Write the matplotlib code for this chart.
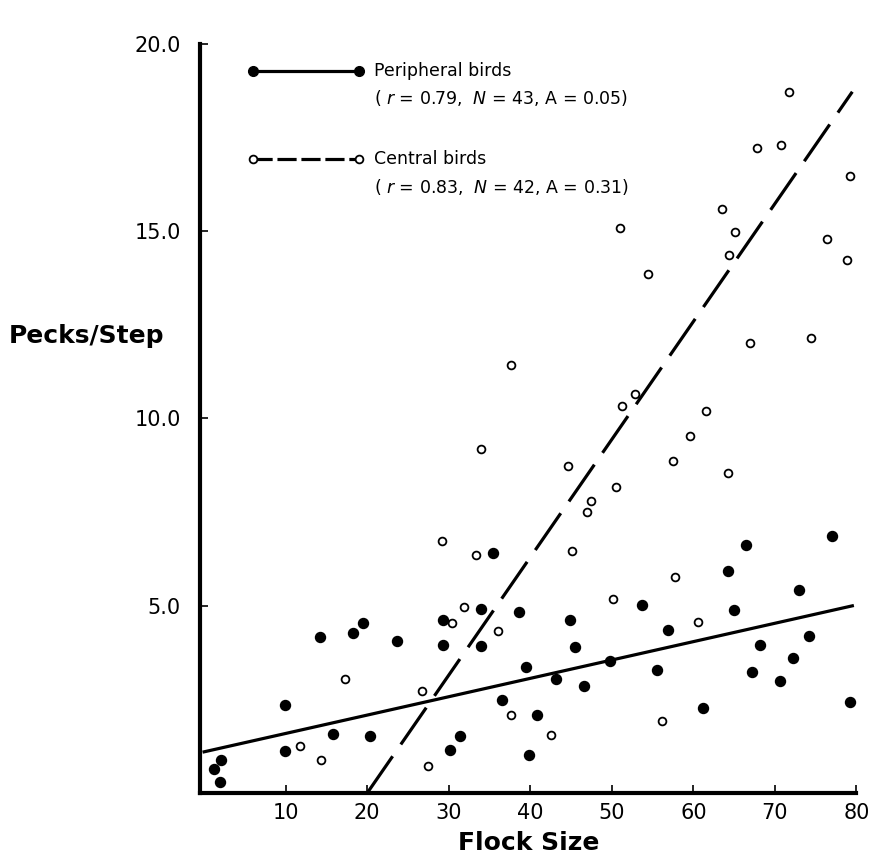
import matplotlib
matplotlib.use('Agg')
import matplotlib.pyplot as plt
import numpy as np

# peripheral birds (filled dots)
periX = [1.2, 2.1, 2.0, 9.9, 9.9, 14.2, 15.8, 18.3, 19.5, 20.4, 23.7,
         29.3, 29.3, 30.1, 31.4, 35.4, 34.0, 33.9, 36.5, 38.6, 39.5, 39.8,
         40.8, 43.1, 44.9, 45.5, 46.6, 49.8, 53.7, 55.6, 56.9, 61.2, 64.3,
         65.0, 66.5, 67.2, 68.2, 70.6, 72.2, 72.9, 74.2, 77.0, 79.2]
periY = [0.63, 0.89, 0.30, 2.36, 1.13, 4.17, 1.58, 4.27, 4.53, 1.51, 4.06,
         4.61, 3.94, 1.15, 1.51, 6.41, 4.91, 3.93, 2.48, 4.82, 3.36, 1.02,
         2.07, 3.04, 4.62, 3.90, 2.85, 3.53, 5.02, 3.28, 4.35, 2.27, 5.92,
         4.88, 6.62, 3.23, 3.95, 2.98, 3.61, 5.43, 4.18, 6.85, 2.42]

# central birds (open circles)
centX = [29.2, 33.3, 31.9, 30.4, 36.0, 17.3, 26.7, 37.6, 11.8, 14.3, 27.4,
         42.6, 56.1, 50.2, 57.7, 60.6, 45.1, 47.0, 47.5, 50.5,
         71.7, 67.8, 70.7, 79.2, 63.5, 65.1, 64.4, 76.4, 78.9, 51.0, 54.5,
         66.9, 74.4, 37.6, 52.9, 51.3, 61.6, 59.6, 33.9, 44.6, 57.5, 64.3]
centY = [6.72, 6.34, 4.97, 4.53, 4.32, 3.05, 2.72, 2.07, 1.26, 0.87, 0.73,
         1.55, 1.93, 5.17, 5.77, 4.56, 6.47, 7.49, 7.80, 8.16,
         18.71, 17.20, 17.29, 16.46, 15.58, 14.96, 14.36, 14.79, 14.22, 15.09, 13.86,
         12.01, 12.15, 11.42, 10.64, 10.34, 10.19, 9.54, 9.17, 8.72, 8.87, 8.54]

# fitted lines
periFit = [1.1, 0.049]   # intercept, slope
centFit = [-6.29, 0.3145]
periRange = [0, 79.5]
centRange = [20, 79.5]

legendText = ['Peripheral birds', '( $r$ = 0.79,  $N$ = 43, A = 0.05)',
              'Central birds', '( $r$ = 0.83,  $N$ = 42, A = 0.31)']

plt.rcParams['font.family'] = ['DejaVu Sans']

fig = plt.figure(figsize=(8.69, 8.67), dpi=100)
ax = fig.add_axes([0.2302, 0.0853, 0.7553, 0.8645])

ax.plot(periX, periY, 'o', color='black', markersize=7.2, zorder=3)
ax.plot(centX, centY, 'o', markerfacecolor='white', markeredgecolor='black',
        markeredgewidth=1.3, markersize=5.6, zorder=3)

xp = np.array(periRange)
ax.plot(xp, periFit[0] + periFit[1]*xp, color='black', lw=2.3)
xc = np.array(centRange)
ax.plot(xc, centFit[0] + centFit[1]*xc, color='black', lw=2.3, dashes=(14, 4.5))

ax.set_xlim(-0.5, 80)
ax.set_ylim(0, 20)
ax.set_xticks([10, 20, 30, 40, 50, 60, 70, 80])
ax.set_yticks([5, 10, 15, 20])
ax.set_yticklabels(['5.0', '10.0', '15.0', '20.0'])
ax.tick_params(direction='in', length=6, width=1.2, labelsize=15)
ax.tick_params(axis='x', pad=7)
ax.tick_params(axis='y', pad=14)
ax.spines['top'].set_visible(False)
ax.spines['right'].set_visible(False)
ax.spines['left'].set_linewidth(3)
ax.spines['bottom'].set_linewidth(3)

ax.set_xlabel('Flock Size', fontsize=18, fontweight='bold', labelpad=6)
fig.text(0.01, 0.612, 'Pecks/Step', fontsize=18, fontweight='bold', va='center')

# legend drawn by hand
ax.plot([0.080, 0.2418], [0.963, 0.963], '-o', color='black', lw=2.3,
        markersize=7, transform=ax.transAxes, clip_on=False)
ax.plot([0.080, 0.2418], [0.846, 0.846], color='black', lw=2.3,
        dashes=(6, 1.5), transform=ax.transAxes, clip_on=False)
ax.plot([0.080, 0.2418], [0.846, 0.846], 'o', markerfacecolor='white',
        markeredgecolor='black', markeredgewidth=1.3, markersize=5.6,
        transform=ax.transAxes, clip_on=False, zorder=4)
ypos = [0.963, 0.927, 0.846, 0.809]
for t, yy in zip(legendText, ypos):
    ax.text(0.2645, yy, t, fontsize=12.5, va='center', transform=ax.transAxes)

fig.savefig('out.png', dpi=100)
